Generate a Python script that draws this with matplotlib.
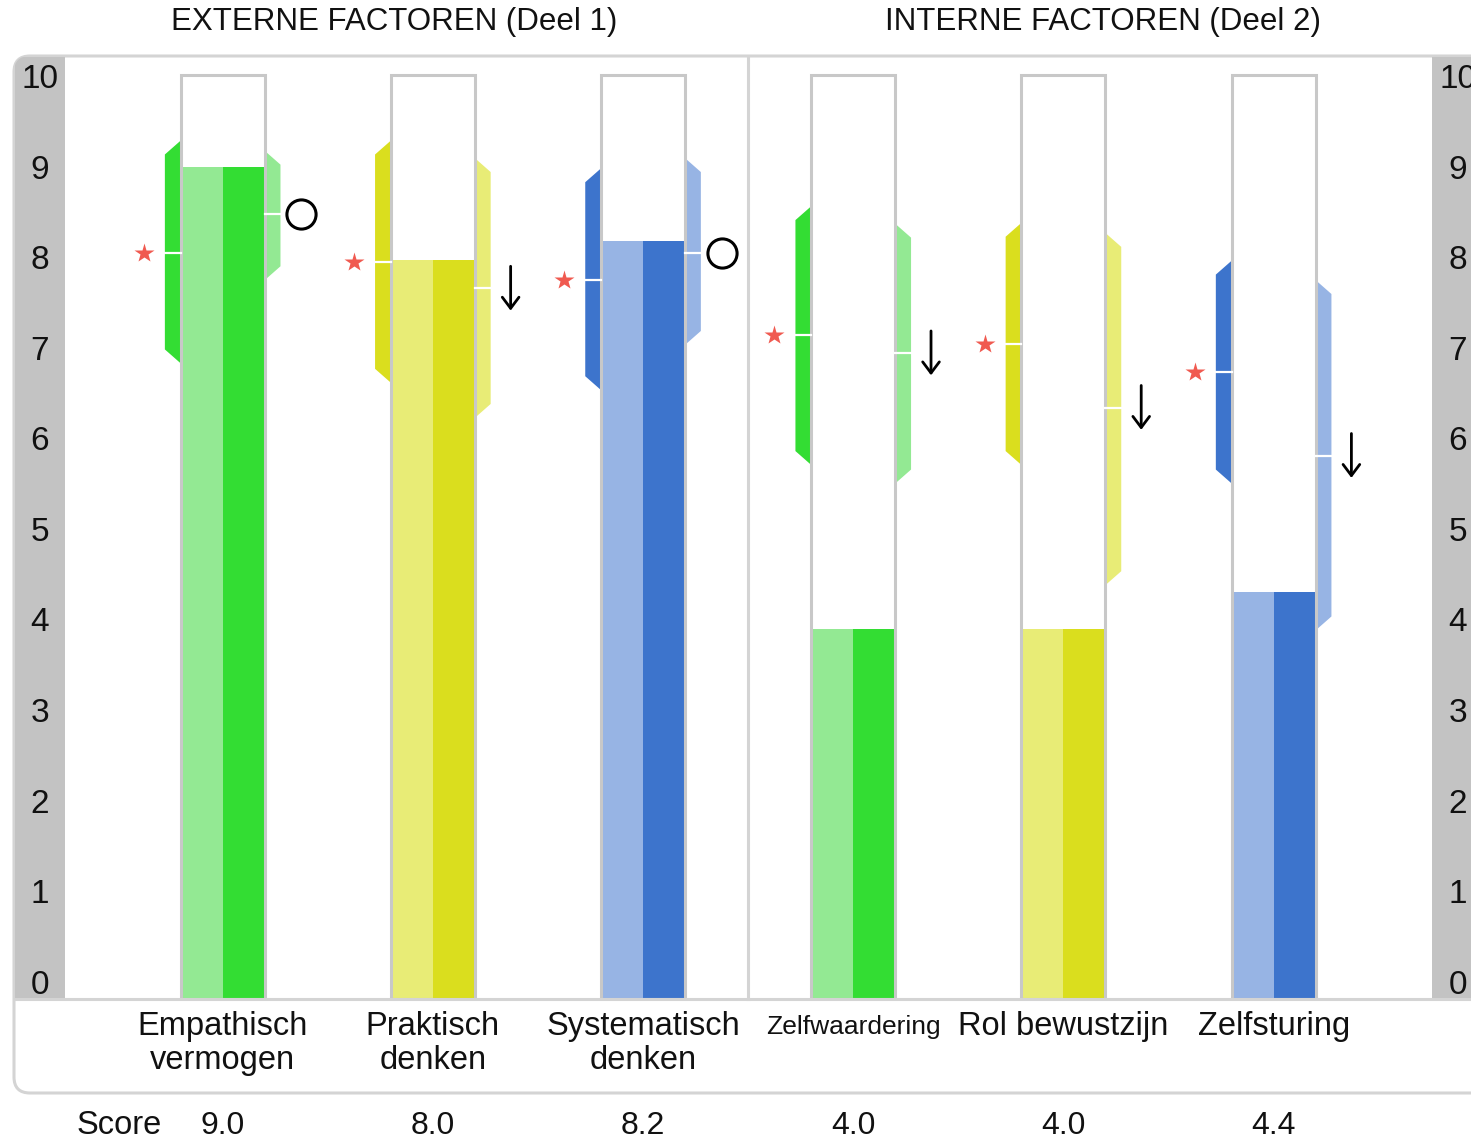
import matplotlib
matplotlib.use('Agg')
import matplotlib.pyplot as plt
from matplotlib.patches import Rectangle, Polygon, FancyBboxPatch
from matplotlib.transforms import blended_transform_factory

# data
categories = ['Empathisch\nvermogen', 'Praktisch\ndenken', 'Systematisch\ndenken',
              'Zelfwaardering', 'Rol bewustzijn', 'Zelfsturing']
scores = [9.0, 8.0, 8.2, 4.0, 4.0, 4.4]
left_low = [6.88, 6.67, 6.59, 5.78, 5.78, 5.58]
left_mid = [8.07, 7.98, 7.78, 7.19, 7.09, 6.79]
left_high = [9.29, 9.29, 8.99, 8.58, 8.40, 7.99]
right_low = [7.78, 6.29, 7.08, 5.58, 4.48, 3.99]
right_mid = [8.50, 7.69, 8.07, 6.99, 6.40, 5.88]
right_high = [9.18, 9.10, 9.10, 8.39, 8.29, 7.78]
right_marks = ['circle', 'down', 'circle', 'down', 'down', 'down']
section_titles = ['EXTERNE FACTOREN (Deel 1)', 'INTERNE FACTOREN (Deel 2)']
ticks = list(range(11))

light = ['#93e993', '#e8ec76', '#97b4e4']
dark = ['#33dd33', '#dade1e', '#3d74cc']
outline = '#c8c8c8'
frame_col = '#d4d4d4'
txt = '#111111'

plt.rcParams['font.family'] = ['Liberation Sans', 'DejaVu Sans']

W, H = 1471, 1141
fig = plt.figure(figsize=(W / 100, H / 100), dpi=100)

# background axes in pixel units for the frame
bg = fig.add_axes([0, 0, 1, 1], zorder=0)
bg.set_xlim(0, W)
bg.set_ylim(H, 0)
bg.axis('off')
frame = FancyBboxPatch((14, 56), 1520, 1037, boxstyle='round,pad=0,rounding_size=16',
                       fc='white', ec=frame_col, lw=2.2)
bg.add_patch(frame)
for x0, w in [(15, 50), (1432, 80)]:
    strip = Rectangle((x0, 57), w, 942, fc='#c3c3c3', ec='none')
    bg.add_patch(strip)
    strip.set_clip_path(frame)

# main axes
ax = fig.add_axes([15 / W, (H - 999) / H, 1456 / W, 942 / H], zorder=1)
ax.patch.set_alpha(0)
for s in ax.spines.values():
    s.set_visible(False)
ax.set_xticks([])
ax.set_yticks([])
ax.set_xlim(-0.988, 5.939)
ax.set_ylim(0, 10.195)

ax.axhline(0, color=frame_col, lw=2.2, zorder=5, clip_on=False)
ax.plot([2.5, 2.5], [0, 10.195], color=frame_col, lw=2.2, zorder=5, clip_on=False)

bw = 0.4
hw = 0.075
ch = 0.15
for i, cat in enumerate(categories):
    c_l = light[i % 3]
    c_d = dark[i % 3]
    # score fill
    ax.add_patch(Rectangle((i - bw / 2, 0), bw / 2, scores[i], fc=c_l, ec='none', zorder=2))
    ax.add_patch(Rectangle((i, 0), bw / 2, scores[i], fc=c_d, ec='none', zorder=2))
    ax.add_patch(Rectangle((i - bw / 2, 0), bw, 10, fc='none', ec=outline, lw=2.2, zorder=3))

    # left band (dark)
    xa = i - bw / 2
    xo = xa - hw
    ax.add_patch(Polygon([(xa, left_high[i]), (xo, left_high[i] - ch), (xo, left_low[i] + ch),
                          (xa, left_low[i])], closed=True, fc=c_d, ec='none', zorder=2))
    ax.plot([xo, xa], [left_mid[i]] * 2, color='white', lw=1.6, zorder=4)
    ax.plot(i - 0.375, left_mid[i], marker='*', ms=15, color='#f05a50', mec='none', zorder=4)

    # right band (light)
    xa = i + bw / 2
    xo = xa + hw
    ax.add_patch(Polygon([(xa, right_high[i]), (xo, right_high[i] - ch), (xo, right_low[i] + ch),
                          (xa, right_low[i])], closed=True, fc=c_l, ec='none', zorder=2))
    ax.plot([xa, xo], [right_mid[i]] * 2, color='white', lw=1.6, zorder=4)
    if right_marks[i] == 'circle':
        ax.plot(i + 0.375, right_mid[i], marker='o', ms=21, mfc='white', mec='black',
                mew=2.2, zorder=4)
    else:
        ax.annotate('', xy=(i + 0.37, right_mid[i] - 0.24), xytext=(i + 0.37, right_mid[i] + 0.24),
                    arrowprops=dict(arrowstyle='->,head_length=0.4,head_width=0.3',
                                    lw=2, color='black', shrinkA=0, shrinkB=0,
                                    mutation_scale=20), zorder=4)

    fs = 19 if cat == 'Zelfwaardering' else 23.5
    yoff = -0.17 if cat == 'Zelfwaardering' else -0.13
    ax.text(i, yoff, cat, ha='center', va='top', fontsize=fs, color=txt,
            linespacing=1.13, clip_on=False)
    ax.text(i, -1.37, f'{scores[i]:.1f}', ha='center', va='center', fontsize=23,
            color=txt, clip_on=False)

ax.text(-0.493, -1.37, 'Score', ha='center', va='center', fontsize=23.5, color=txt, clip_on=False)

# y labels in the grey strips
tr = blended_transform_factory(bg.transData, ax.transData)
for v in ticks:
    yl = 0.15 + 0.98 * v
    ax.text(40, yl, str(v), transform=tr, ha='center', va='center', fontsize=24, color=txt)
    ax.text(1458, yl, str(v), transform=tr, ha='center', va='center', fontsize=24, color=txt)

fig.text(394 / W, 1 - 22 / H, section_titles[0], ha='center', va='center', fontsize=22.5, color=txt)
fig.text(1103 / W, 1 - 22 / H, section_titles[1], ha='center', va='center', fontsize=22.5, color=txt)

fig.savefig('out.png', dpi=100)
